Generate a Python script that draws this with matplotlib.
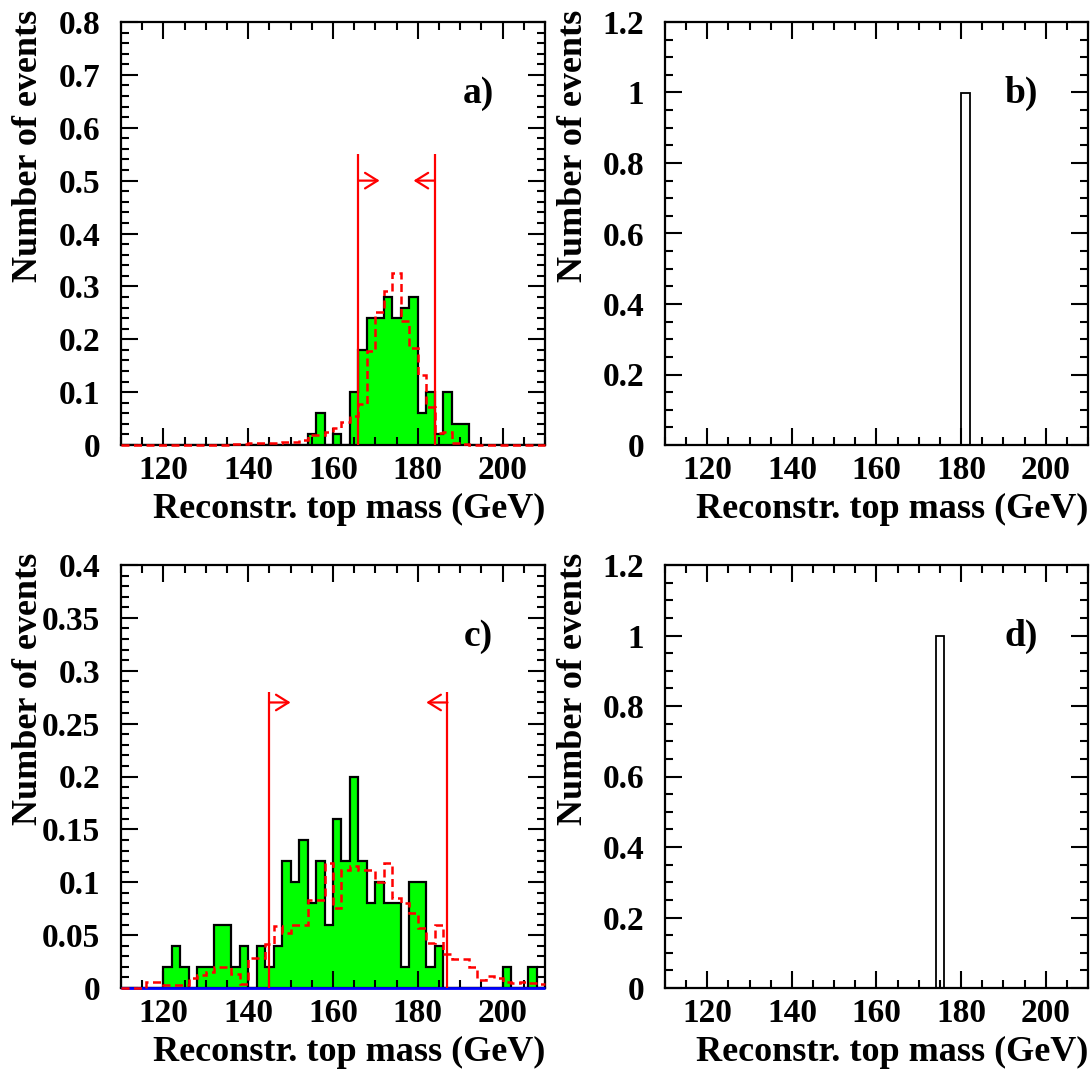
import matplotlib
matplotlib.use("Agg")
import matplotlib.pyplot as plt
from matplotlib.ticker import MultipleLocator, FormatStrFormatter
import numpy as np

plt.rcParams['font.family'] = ['Liberation Serif', 'DejaVu Serif']
plt.rcParams['font.weight'] = 'bold'

# ---------------- data ----------------
# 2 GeV bins from 110 to 210 GeV
bin_edges = np.arange(110, 212, 2)

# panel a) observed (green) and expectation (red dashed)
obs_a = [0, 0, 0, 0, 0, 0, 0, 0, 0, 0,
         0, 0, 0, 0, 0, 0, 0, 0, 0, 0,
         0, 0, 0.02, 0.06, 0, 0.02, 0, 0.10, 0.18, 0.24,
         0.24, 0.28, 0.24, 0.26, 0.28, 0.06, 0.10, 0.02, 0.10, 0.04,
         0.04, 0, 0, 0, 0, 0, 0, 0, 0, 0]
mc_a = [0, 0, 0, 0, 0, 0, 0, 0, 0, 0,
        0, 0, 0, 0.002, 0.002, 0.004, 0.004, 0.004, 0.004, 0.006,
        0.006, 0.010, 0.019, 0.019, 0.024, 0.033, 0.043, 0.055, 0.077, 0.178,
        0.251, 0.292, 0.326, 0.235, 0.184, 0.133, 0.072, 0.022, 0.025, 0.004,
        0.002, 0, 0, 0, 0, 0, 0, 0, 0, 0]
cuts_a = [166, 184]
cut_top_a = 0.55
arrow_y_a = 0.50

# panel b) single candidate
mass_b = [181]
count_b = [1]

# panel c) observed (green), expectation (red dashed), background (blue)
obs_c = [0, 0, 0, 0, 0, 0.02, 0.04, 0.02, 0, 0.02,
         0.02, 0.06, 0.06, 0.02, 0.04, 0, 0.04, 0.02, 0.04, 0.12,
         0.10, 0.14, 0.08, 0.12, 0.06, 0.16, 0.12, 0.20, 0.12, 0.08,
         0.10, 0.08, 0.08, 0.02, 0.10, 0.10, 0.02, 0.04, 0, 0,
         0, 0, 0, 0, 0, 0.02, 0, 0, 0.02, 0]
mc_c = [0, 0, 0, 0.006, 0.006, 0.003, 0.003, 0.003, 0.009, 0.012,
        0.015, 0.020, 0.020, 0.013, 0.004, 0.028, 0.028, 0.042, 0.059, 0.052,
        0.060, 0.060, 0.083, 0.083, 0.118, 0.076, 0.112, 0.115, 0.112, 0.112,
        0.100, 0.118, 0.085, 0.080, 0.071, 0.057, 0.043, 0.060, 0.032, 0.027,
        0.027, 0.020, 0.008, 0.011, 0.009, 0.006, 0.005, 0.006, 0.005, 0.004]
bkg_c = [0, 0, 0, 0, 0, 0, 0, 0, 0, 0,
         0, 0, 0, 0, 0, 0, 0, 0, 0, 0,
         0, 0, 0, 0, 0, 0, 0, 0, 0, 0,
         0, 0, 0, 0, 0, 0, 0, 0, 0, 0,
         0, 0, 0, 0, 0, 0, 0, 0, 0, 0]
cuts_c = [145, 187]
cut_top_c = 0.28
arrow_y_c = 0.27

# panel d) single candidate
mass_d = [175]
count_d = [1]

x_label = "Reconstr. top mass (GeV)"
y_label = "Number of events"
panel_tags = ["a)", "b)", "c)", "d)"]

# ---------------- figure ----------------
W, H = 1092, 1069
fig = plt.figure(figsize=(W / 100, H / 100), dpi=100)

def px_axes(l, t, r, b):
    return fig.add_axes([l / W, 1 - b / H, (r - l) / W, (b - t) / H])

ax_a = px_axes(121, 22, 545, 445)
ax_b = px_axes(665, 22, 1088, 445)
ax_c = px_axes(121, 565, 545, 988)
ax_d = px_axes(665, 565, 1088, 988)

TICK_FS = 24
LABEL_FS = 26
TAG_FS = 27

def style(ax, ymax, ymaj, ymin, tag):
    ax.set_xlim(110, 210)
    ax.set_ylim(0, ymax)
    ax.xaxis.set_major_locator(MultipleLocator(20))
    ax.xaxis.set_minor_locator(MultipleLocator(5))
    ax.yaxis.set_major_locator(MultipleLocator(ymaj))
    ax.yaxis.set_minor_locator(MultipleLocator(ymin))
    ax.yaxis.set_major_formatter(FormatStrFormatter('%g'))
    ax.tick_params(which='both', direction='in', top=True, right=True,
                   width=1.5, color='black')
    ax.tick_params(which='major', length=12.5)
    ax.tick_params(which='minor', length=5.5)
    ax.tick_params(axis='x', which='major', labelsize=TICK_FS, pad=7)
    ax.tick_params(axis='y', which='major', labelsize=TICK_FS, pad=15)
    for lab in ax.get_xticklabels() + ax.get_yticklabels():
        lab.set_fontweight('bold')
    for s in ax.spines.values():
        s.set_linewidth(1.6)
        s.set_zorder(2.5)
    ax.text(1.0, -0.172, x_label, transform=ax.transAxes, ha='right',
            va='baseline', fontsize=LABEL_FS, fontweight='bold')
    ax.text(-0.217, 1.03, y_label, transform=ax.transAxes, ha='center',
            va='top', rotation=90, fontsize=LABEL_FS, fontweight='bold')
    ax.text(0.842, 0.832, tag, transform=ax.transAxes, ha='center',
            va='center', fontsize=TAG_FS, fontweight='bold')

def cut_lines(ax, cuts, top, ay):
    lo, hi = cuts
    for c in cuts:
        ax.plot([c, c], [0, top], color='red', lw=1.6, zorder=5,
                solid_capstyle='butt')
    aprops = dict(arrowstyle='->,head_length=0.45,head_width=0.28',
                  color='red', lw=1.6, mutation_scale=20,
                  shrinkA=0, shrinkB=0)
    ax.annotate('', xy=(lo + 5, ay), xytext=(lo, ay), arrowprops=aprops,
                zorder=5)
    ax.annotate('', xy=(hi - 5, ay), xytext=(hi, ay), arrowprops=aprops,
                zorder=5)

RED_LS = (0, (3.2, 1.8))

# panel a
ax_a.stairs(obs_a, bin_edges, fill=True, color='#00ff00', zorder=1)
ax_a.stairs(obs_a, bin_edges, color='black', lw=1.6, zorder=2)
ax_a.stairs(mc_a, bin_edges, color='red', lw=1.8, ls=RED_LS,
            baseline=None, zorder=4, clip_on=False)
cut_lines(ax_a, cuts_a, cut_top_a, arrow_y_a)
style(ax_a, 0.8, 0.1, 0.02, panel_tags[0])

# panel b
ax_b.hist(mass_b, bins=bin_edges, weights=count_b, histtype='step',
          color='black', lw=1.3, zorder=2)
style(ax_b, 1.2, 0.2, 0.05, panel_tags[1])

# panel c
ax_c.stairs(obs_c, bin_edges, fill=True, color='#00ff00', zorder=1)
ax_c.stairs(obs_c, bin_edges, color='black', lw=1.6, zorder=2)
ax_c.stairs(bkg_c, bin_edges, color='blue', lw=2.0, baseline=None,
            zorder=3, clip_on=False)
ax_c.stairs(mc_c, bin_edges, color='red', lw=1.8, ls=RED_LS,
            baseline=None, zorder=4, clip_on=False)
cut_lines(ax_c, cuts_c, cut_top_c, arrow_y_c)
style(ax_c, 0.4, 0.05, 0.01, panel_tags[2])

# panel d
ax_d.hist(mass_d, bins=bin_edges, weights=count_d, histtype='step',
          color='black', lw=1.3, zorder=2)
style(ax_d, 1.2, 0.2, 0.05, panel_tags[3])

fig.savefig("out.png", dpi=100)
